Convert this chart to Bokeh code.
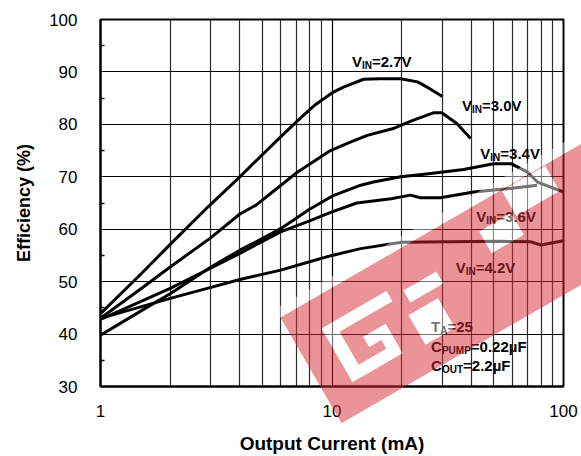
import math
from bokeh.plotting import figure
from bokeh.models import Range1d, FixedTicker, CustomJSTickFormatter
from bokeh.core.properties import value
from bokeh.embed import file_html
from bokeh.resources import INLINE

# ---------------- data ----------------
cur_27 = [1, 1.5, 2, 3, 4, 5, 6, 7.3, 8.5, 10, 11.2, 13.7, 16, 19.8, 23.4, 26, 30]
eff_27 = [43.9, 51.5, 57.1, 64.8, 70.0, 74.2, 77.6, 81.2, 83.8, 86.0, 87.1, 88.6, 88.7, 88.7, 88.1, 87.0, 85.3]

cur_30 = [1, 1.5, 2, 3, 4, 4.7, 5.5, 7, 9.85, 12, 14.2, 18.4, 19.8, 22.5, 27.4, 29.8, 34.7, 39.7]
eff_30 = [43.0, 48.7, 52.8, 58.4, 62.9, 64.6, 67.0, 70.7, 75.0, 76.6, 77.9, 79.2, 79.8, 80.8, 82.2, 82.2, 80.1, 77.3]

cur_34 = [1, 1.56, 2, 3, 4, 4.7, 6, 8, 10, 13.3, 15.1, 19.8, 25, 30.2, 37, 49.9, 59.3, 69.9, 77.2, 100]
eff_34 = [39.8, 44.9, 47.7, 52.8, 56.0, 57.6, 60.1, 63.8, 66.3, 68.4, 69.0, 70.0, 70.5, 70.9, 71.4, 72.5, 72.5, 70.9, 69.0, 67.1]

cur_36 = [1, 2, 3, 4, 6, 8, 10, 12.8, 18, 21.8, 24.1, 29.4, 40.9, 57, 77]
eff_36 = [42.8, 48.7, 52.6, 55.4, 59.5, 61.6, 63.3, 65.0, 65.8, 66.5, 66.0, 66.0, 67.1, 67.7, 68.4]

cur_42 = [1, 2, 3, 4, 6, 8, 10, 13.3, 20, 32, 53, 72, 80, 100]
eff_42 = [43.0, 46.8, 48.9, 50.4, 52.2, 53.8, 55.0, 56.3, 57.5, 57.6, 57.7, 57.6, 57.0, 57.8]

x_major_ticks = [1, 10, 100]
x_minor_ticks = [2, 3, 4, 5, 6, 7, 8, 9, 20, 30, 40, 50, 60, 70, 80, 90]
y_major_ticks = [30, 40, 50, 60, 70, 80, 90, 100]
y_minor_ticks = [35, 45, 55, 65, 75, 85, 95]

# annotation texts: list of (text, is_subscript) pieces
label_27 = [("V", False), ("IN", True), ("=2.7V", False)]
label_30 = [("V", False), ("IN", True), ("=3.0V", False)]
label_34 = [("V", False), ("IN", True), ("=3.4V", False)]
label_36 = [("V", False), ("IN", True), ("=3.6V", False)]
label_42 = [("V", False), ("IN", True), ("=4.2V", False)]
label_ta = [("T", False), ("A", True), ("=25", False)]
label_cp = [("C", False), ("PUMP", True), ("=0.22\u00b5F", False)]
label_co = [("C", False), ("OUT", True), ("=2.2\u00b5F", False)]

FONT = "Liberation Sans"

p = figure(width=581, height=456, x_axis_type="log",
           x_range=Range1d(1, 100), y_range=Range1d(30, 100),
           output_backend="svg", toolbar_location=None,
           min_border_left=100, min_border_right=18,
           min_border_top=19, min_border_bottom=70)
p.background_fill_color = "white"
p.border_fill_color = "white"
p.outline_line_color = "black"
p.outline_line_width = 2

# axes
p.xaxis.ticker = FixedTicker(ticks=x_major_ticks, minor_ticks=x_minor_ticks)
p.yaxis.ticker = FixedTicker(ticks=y_major_ticks, minor_ticks=y_minor_ticks)
p.xaxis.formatter = CustomJSTickFormatter(code="return tick.toFixed(0)")
for ax in (p.xaxis, p.yaxis):
    ax.axis_line_color = "black"
    ax.axis_line_width = 2
    ax.major_tick_in = 0
    ax.major_tick_out = 0
    ax.major_label_text_font = FONT
    ax.major_label_text_font_size = "17px"
    ax.major_label_text_color = "black"
    ax.axis_label_text_font = FONT
    ax.axis_label_text_font_style = "bold"
    ax.axis_label_text_color = "black"
p.xaxis.axis_label_text_font_size = "19px"
p.yaxis.axis_label_text_font_size = "18px"
p.xaxis.minor_tick_in = 0
p.xaxis.minor_tick_out = 0
p.yaxis.minor_tick_in = 4
p.yaxis.minor_tick_out = 0
p.yaxis.minor_tick_line_color = "black"
p.yaxis.minor_tick_line_width = 1.5
p.xaxis.major_label_standoff = 18
p.yaxis.major_label_standoff = 23
p.xaxis.axis_label = "Output Current (mA)"
p.yaxis.axis_label = "Efficiency (%)"
p.xaxis.axis_label_standoff = 13
p.yaxis.axis_label_standoff = 12

# grid
p.xgrid.ticker = p.xaxis[0].ticker
p.ygrid.ticker = p.yaxis[0].ticker
p.xgrid.grid_line_color = "black"
p.xgrid.grid_line_width = 1.2
p.xgrid.minor_grid_line_color = "#2a2a2a"
p.xgrid.minor_grid_line_width = 1.2
p.ygrid.grid_line_color = "black"
p.ygrid.grid_line_width = 1.2

# curves
for xs, ys in [(cur_27, eff_27), (cur_30, eff_30), (cur_34, eff_34),
               (cur_36, eff_36), (cur_42, eff_42)]:
    p.line(xs, ys, line_color="black", line_width=3, line_join="round")

# annotations with subscripts
W = {"V": .667, "I": .278, "N": .722, "=": .584, ".": .278, "T": .611, "A": .722,
     "C": .722, "P": .667, "U": .722, "M": .833, "O": .778, "\u00b5": .611, "F": .611}
def tw(s, size):
    return sum(W.get(ch, .556) for ch in s) * size

def put_label(x, y, parts, size=15, sub=10):
    off = 0.0
    for txt, is_sub in parts:
        fs = sub if is_sub else size
        p.text(x=[x], y=[y], text=[txt], x_offset=off, y_offset=4 if is_sub else 0,
               text_font=value(FONT), text_font_style="bold",
               text_font_size=f"{fs}px", text_color="black",
               text_align="left", text_baseline="alphabetic")
        off += tw(txt, fs)

put_label(12.2, 91.9, label_27)
put_label(36.4, 83.6, label_30)
put_label(43.7, 74.5, label_34)
put_label(42.0, 62.5, label_36)
put_label(34.2, 52.7, label_42)
put_label(26.8, 41.4, label_ta)
put_label(26.8, 37.6, label_cp)
put_label(26.8, 34.0, label_co)

# ---------------- watermark (decoration, screen-pixel geometry) ----------------
FX0, FX1, FY0, FY1 = 100.0, 563.0, 19.0, 386.0
def s2d(sx, sy):
    return (10 ** (2 * (sx - FX0) / (FX1 - FX0)),
            100 - 70 * (sy - FY0) / (FY1 - FY0))
ang = math.radians(30)
OX, OY = 280.0, 317.0
def uv_poly(pts):
    xs, ys = [], []
    for u, v in pts:
        sx = OX + u * math.cos(ang) + v * math.sin(ang)
        sy = OY - u * math.sin(ang) + v * math.cos(ang)
        dx, dy = s2d(sx, sy)
        xs.append(dx); ys.append(dy)
    return xs, ys
def rect(u0, u1, v0, v1):
    return [(u0, v0), (u1, v0), (u1, v1), (u0, v1)]

band = rect(0, 380, 0, 122)
holes = [
    [(30, 30), (105, 30), (105, 42), (44, 42), (44, 80), (76, 80), (76, 70),
     (62, 70), (62, 58), (88, 58), (88, 92), (30, 92)],
    rect(120, 158, 38, 52),
    rect(112, 146, 62, 96),
    rect(215, 252, 25, 50),
    rect(255, 305, 1, 30),
]
strip = rect(-5, 380, -10, 0)

white_x, white_y = [], []
for poly in [strip] + holes:
    xs, ys = uv_poly(poly)
    white_x.append([[xs]]); white_y.append([[ys]])
p.multi_polygons(xs=white_x, ys=white_y, fill_color="white", fill_alpha=0.45,
                 line_alpha=0, level="overlay")

bx, by = uv_poly(band)
hx = [uv_poly(h)[0] for h in holes]
hy = [uv_poly(h)[1] for h in holes]
p.multi_polygons(xs=[[[bx] + hx]], ys=[[[by] + hy]], fill_color="#d62834",
                 fill_alpha=0.5, line_alpha=0, level="overlay")

open("out.html", "w").write(file_html(p, INLINE))
